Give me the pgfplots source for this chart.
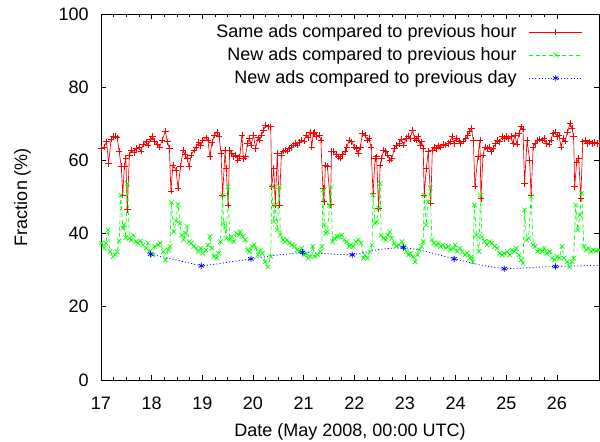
\documentclass[border=0pt]{standalone}
\usepackage{fontspec}
\setmainfont{Liberation Sans}
\usepackage{pgfplots}
\pgfplotsset{compat=1.18}

\begin{document}
\begin{tikzpicture}[font=\fontsize{13.5}{16}\selectfont]
\begin{axis}[
  width=373.5pt, height=274.5pt, scale only axis,
  xmin=17, xmax=26.83, ymin=0, ymax=100,
  xtick={17,18,...,26}, minor x tick num=3, ytick={0,20,...,100},
  major tick length=4pt, minor tick length=2pt,
  tick style={black, line width=0.5pt},
  axis line style={line width=0.6pt},
  /pgf/number format/assume math mode=true,
  xticklabel style={anchor=base, inner sep=0pt, yshift=-22.5pt},
  yticklabel style={anchor=east, inner sep=0pt, xshift=-9pt},
  xlabel={Date (May 2008, 00:00 UTC)},
  xlabel style={at={(axis description cs:0.5,-0.1557)}, anchor=base, inner sep=0pt},
  ylabel={Fraction (\%)},
  ylabel style={at={(axis description cs:-0.1577,0.5)}, anchor=center, inner sep=0pt},
  legend style={draw=none, fill=none, at={(axis description cs:1,1)}, anchor=north east,
    xshift=-12pt, yshift=-7.7pt, inner sep=0pt, row sep=6pt, nodes={inner sep=0pt},
    /tikz/every odd column/.style={column sep=9pt}},
  legend cell align=right, legend plot pos=right,
  legend image code/.code={\draw[#1,mark repeat=2,mark phase=2] plot coordinates {(0pt,0pt) (20pt,0pt) (40pt,0pt)};},
]
\addplot[color=red, line width=0.5pt, mark=+, mark size=2.4pt, mark options={solid, line width=0.5pt}] coordinates {
(17.01,63.3)(17.06,63.7)(17.11,65.1)(17.15,59.2)(17.20,65.8)(17.24,66.5)(17.29,66.7)(17.32,66.2)(17.36,62.4)(17.40,58.3)(17.43,50.5)(17.46,58.3)(17.49,60.5)(17.52,46.5)(17.56,61.5)(17.60,62.8)(17.65,62.2)(17.70,63.3)(17.75,63.7)(17.79,62.5)(17.83,64.4)(17.89,65.1)(17.93,64.2)(17.98,65.8)(18.02,66.5)(18.06,65.3)(18.11,64.4)(18.16,63.7)(18.21,65.5)(18.27,68.0)(18.31,65.1)(18.35,63.3)(18.38,51.6)(18.42,58.7)(18.48,57.4)(18.52,52.4)(18.57,58.3)(18.62,62.8)(18.66,61.6)(18.70,60.5)(18.74,58.3)(18.78,61.5)(18.84,62.8)(18.88,63.7)(18.93,64.9)(18.97,64.0)(19.01,65.5)(19.07,66.2)(19.11,65.5)(19.15,61.0)(19.19,64.9)(19.24,66.9)(19.29,67.8)(19.33,66.7)(19.37,61.9)(19.40,50.5)(19.45,62.8)(19.47,57.8)(19.51,47.8)(19.54,62.8)(19.58,61.9)(19.62,61.0)(19.66,61.5)(19.70,60.1)(19.74,61.0)(19.78,66.9)(19.81,60.5)(19.85,61.0)(19.89,64.6)(19.93,66.0)(19.96,64.2)(20.01,66.9)(20.05,63.3)(20.10,66.2)(20.13,65.5)(20.17,66.9)(20.21,68.3)(20.25,69.6)(20.31,69.2)(20.35,69.2)(20.37,52.8)(20.41,57.8)(20.44,47.8)(20.48,61.9)(20.52,47.8)(20.56,61.5)(20.59,62.5)(20.63,62.8)(20.67,62.5)(20.71,63.3)(20.75,63.5)(20.79,64.2)(20.83,64.6)(20.87,64.2)(20.91,64.9)(20.96,65.5)(21.01,65.3)(21.05,66.9)(21.09,66.2)(21.13,67.8)(21.16,63.7)(21.19,67.4)(21.22,67.6)(21.26,66.5)(21.31,66.9)(21.34,65.5)(21.38,52.4)(21.40,48.7)(21.43,58.7)(21.47,58.3)(21.53,48.0)(21.55,62.4)(21.59,62.5)(21.64,61.6)(21.68,61.0)(21.72,60.7)(21.77,61.6)(21.82,62.5)(21.85,63.5)(21.90,65.5)(21.95,65.1)(22.00,63.7)(22.04,63.3)(22.08,61.9)(22.12,63.7)(22.16,67.4)(22.21,66.9)(22.26,65.5)(22.29,66.0)(22.33,63.7)(22.37,51.0)(22.41,60.5)(22.44,61.0)(22.48,46.9)(22.51,58.7)(22.54,60.5)(22.58,62.8)(22.62,62.4)(22.66,61.5)(22.70,60.1)(22.74,60.5)(22.79,63.3)(22.83,64.2)(22.88,64.6)(22.93,65.8)(22.97,64.2)(23.02,66.0)(23.06,66.7)(23.10,66.0)(23.15,68.3)(23.19,66.0)(23.23,65.5)(23.26,66.5)(23.30,64.2)(23.33,65.1)(23.36,63.3)(23.38,50.5)(23.42,57.8)(23.46,62.4)(23.51,48.3)(23.54,62.8)(23.58,63.7)(23.62,63.3)(23.66,64.0)(23.70,63.7)(23.75,64.4)(23.80,64.2)(23.85,64.6)(23.89,65.1)(23.93,66.5)(23.97,64.6)(24.01,66.0)(24.07,65.3)(24.10,64.6)(24.15,65.3)(24.20,66.0)(24.24,66.9)(24.28,68.0)(24.31,68.7)(24.35,65.5)(24.38,53.0)(24.44,61.0)(24.48,65.5)(24.50,49.6)(24.54,61.5)(24.58,63.7)(24.62,63.3)(24.66,63.7)(24.70,62.4)(24.74,63.3)(24.79,64.6)(24.82,65.5)(24.87,65.1)(24.92,66.5)(24.96,66.0)(25.00,66.5)(25.05,66.0)(25.09,66.5)(25.13,64.6)(25.17,66.9)(25.21,64.4)(25.25,67.4)(25.29,69.2)(25.33,68.5)(25.36,53.7)(25.41,65.5)(25.46,60.1)(25.49,50.5)(25.53,63.7)(25.57,64.6)(25.62,65.5)(25.66,65.8)(25.71,65.5)(25.75,66.0)(25.79,64.6)(25.84,64.4)(25.88,65.5)(25.92,67.4)(25.97,67.8)(26.00,66.5)(26.04,66.9)(26.08,63.7)(26.12,66.0)(26.16,65.3)(26.21,67.8)(26.26,70.1)(26.30,68.7)(26.33,66.5)(26.35,52.8)(26.39,59.6)(26.43,60.5)(26.47,49.5)(26.51,65.1)(26.56,65.5)(26.60,64.6)(26.64,65.1)(26.69,64.6)(26.74,64.9)(26.79,64.6)(26.83,64.6)
};
\addlegendentry{Same ads compared to previous hour}
\addplot[color=green, line width=0.5pt, dash pattern=on 3pt off 2pt, mark=x, mark size=2.4pt, mark options={solid, line width=0.5pt}] coordinates {
(17.01,37.4)(17.06,36.0)(17.10,37.4)(17.14,41.0)(17.18,35.1)(17.24,33.7)(17.28,34.2)(17.32,35.1)(17.36,38.0)(17.39,50.5)(17.43,41.5)(17.45,42.4)(17.49,38.9)(17.52,53.7)(17.56,38.7)(17.60,38.3)(17.64,39.6)(17.69,37.8)(17.73,37.4)(17.78,38.0)(17.83,36.9)(17.89,36.0)(17.93,37.4)(17.96,35.1)(18.02,34.2)(18.06,36.5)(18.13,36.9)(18.17,37.4)(18.23,35.1)(18.27,32.8)(18.33,35.5)(18.36,36.5)(18.39,48.5)(18.44,40.5)(18.48,43.5)(18.52,48.0)(18.56,42.8)(18.59,39.6)(18.63,38.3)(18.67,40.1)(18.70,41.9)(18.74,37.8)(18.78,37.4)(18.83,36.5)(18.88,36.0)(18.92,35.1)(18.97,36.0)(19.01,34.6)(19.07,35.5)(19.11,36.9)(19.15,39.2)(19.19,36.0)(19.23,33.7)(19.28,33.3)(19.32,34.6)(19.36,37.8)(19.40,50.5)(19.42,42.8)(19.45,41.5)(19.47,38.7)(19.51,52.8)(19.54,38.3)(19.58,39.2)(19.62,37.8)(19.67,40.1)(19.72,39.6)(19.75,40.5)(19.80,39.2)(19.85,38.3)(19.89,35.5)(19.93,35.1)(19.98,36.5)(20.02,36.9)(20.06,36.0)(20.10,34.2)(20.15,35.5)(20.19,34.6)(20.24,32.3)(20.29,30.9)(20.35,33.7)(20.37,52.8)(20.41,43.3)(20.44,47.8)(20.48,41.0)(20.52,52.8)(20.54,39.6)(20.59,38.3)(20.63,37.8)(20.67,38.3)(20.72,37.4)(20.77,36.9)(20.82,36.5)(20.87,35.5)(20.92,35.1)(20.96,36.0)(21.01,34.2)(21.05,34.6)(21.09,33.3)(21.13,33.7)(21.18,36.5)(21.22,33.7)(21.28,34.2)(21.33,35.1)(21.36,36.5)(21.38,51.9)(21.41,42.4)(21.44,40.1)(21.47,40.5)(21.51,47.8)(21.54,52.8)(21.57,37.8)(21.61,38.7)(21.66,39.2)(21.70,39.2)(21.75,39.6)(21.80,38.3)(21.85,37.8)(21.90,36.5)(21.93,36.9)(21.98,36.5)(22.03,37.8)(22.08,38.3)(22.13,37.4)(22.18,33.3)(22.21,34.2)(22.26,33.3)(22.31,35.1)(22.35,36.9)(22.37,50.5)(22.41,42.8)(22.44,43.3)(22.48,46.9)(22.51,53.7)(22.53,39.6)(22.57,38.7)(22.62,38.3)(22.66,39.6)(22.70,40.5)(22.74,38.7)(22.79,37.4)(22.83,36.5)(22.88,36.9)(22.94,37.8)(22.98,36.5)(23.03,35.1)(23.07,34.2)(23.11,34.6)(23.16,33.7)(23.20,32.3)(23.25,34.2)(23.28,35.5)(23.33,36.5)(23.36,37.8)(23.38,50.5)(23.42,42.4)(23.46,48.7)(23.50,52.4)(23.53,38.3)(23.57,37.4)(23.62,36.9)(23.66,37.4)(23.70,36.5)(23.75,36.9)(23.80,36.0)(23.86,36.5)(23.90,35.5)(23.95,36.0)(23.99,36.9)(24.03,35.1)(24.08,36.0)(24.13,35.1)(24.18,34.2)(24.23,34.6)(24.28,33.3)(24.31,33.7)(24.34,32.3)(24.37,47.8)(24.41,39.6)(24.46,35.1)(24.49,50.5)(24.52,39.2)(24.57,37.8)(24.62,36.9)(24.67,37.8)(24.72,37.4)(24.77,36.5)(24.82,36.0)(24.87,34.6)(24.92,34.2)(24.96,34.6)(25.02,35.1)(25.07,34.2)(25.11,35.5)(25.16,35.1)(25.20,36.0)(25.25,34.2)(25.29,32.8)(25.33,31.9)(25.36,46.5)(25.40,38.3)(25.44,38.7)(25.49,50.1)(25.53,36.9)(25.57,36.5)(25.62,35.1)(25.66,35.5)(25.71,35.1)(25.75,36.0)(25.80,34.6)(25.86,35.1)(25.90,33.3)(25.95,32.8)(26.00,33.7)(26.05,33.3)(26.10,36.5)(26.14,33.3)(26.20,32.3)(26.25,30.9)(26.30,32.3)(26.33,33.3)(26.37,47.8)(26.41,41.0)(26.45,45.1)(26.49,51.0)(26.53,36.5)(26.58,35.5)(26.62,36.0)(26.67,35.1)(26.72,35.5)(26.77,35.3)(26.83,35.5)
};
\addlegendentry{New ads compared to previous hour}
\addplot[color=blue, line width=0.6pt, dash pattern=on 0.8pt off 1.6pt, mark=asterisk, mark size=2.4pt, mark repeat=4, mark options={solid, line width=0.6pt}] coordinates {
(17.98,34.4)(18.23,33.6)(18.48,32.8)(18.73,32.0)
(18.98,31.2)(19.23,31.6)(19.47,32.1)(19.72,32.6)
(19.96,33.1)(20.21,33.6)(20.47,34.1)(20.72,34.5)
(20.98,34.9)(21.22,34.7)(21.47,34.5)(21.71,34.3)
(21.96,34.2)(22.21,34.9)(22.46,35.6)(22.72,36.0)
(22.97,36.2)(23.22,35.7)(23.47,34.9)(23.72,34.0)
(23.97,33.1)(24.22,32.3)(24.46,31.5)(24.71,30.9)
(24.96,30.4)(25.21,30.5)(25.47,30.7)(25.72,30.9)
(25.97,31.0)(26.22,31.1)(26.52,31.2)(26.83,31.3)
};
\addlegendentry{New ads compared to previous day}
\coordinate (sw) at (rel axis cs:0,0);
\coordinate (ne) at (rel axis cs:1,1);
\end{axis}
\pgfresetboundingbox
\path ([shift={(-75.75pt,-46.5pt)}]sw) rectangle ([shift={(0.75pt,10.5pt)}]ne);
\end{tikzpicture}
\end{document}
